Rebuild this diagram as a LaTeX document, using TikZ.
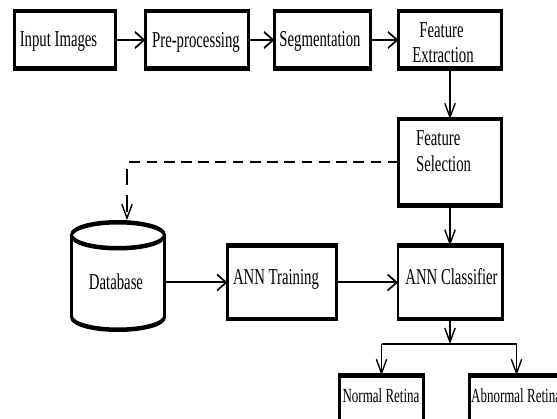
\documentclass[tikz,border=0pt]{standalone}
\usepackage{fontspec}
\newfontfamily\tnr{Liberation Serif}
\usetikzlibrary{arrows.meta}
\tikzset{
  box/.style={draw, line width=4.5pt, inner sep=0pt, outer sep=0pt, fill=white},
  conn/.style={line width=2pt},
  arr/.style={conn, -{Straight Barb[length=14pt,width=16pt]}},
  dashline/.style={dash pattern=on 16.5pt off 10pt},
  cyl/.style={line width=4.5pt},
  txt/.style={font=\tnr\fontsize{22.7}{26}\selectfont, inner sep=0pt, anchor=base},
  stxt/.style={font=\tnr\fontsize{20}{23}\selectfont, inner sep=0pt, anchor=base}
}
\begin{document}
\begin{tikzpicture}[x=1pt,y=1pt]
\useasboundingbox (0,0) rectangle (557,418);
\fill[white] (0,0) rectangle (557,418);
\clip (0,0) rectangle (557,418);
\begin{scope}[x=1.538462pt, y=1pt, transform canvas={xscale=0.65}]
  % boxes
  \node[box, minimum width=155.5pt, minimum height=57.5pt] (in)  at (65,378) {};
  \node[box, minimum width=158.6pt, minimum height=57.5pt] (pre) at (197,378) {};
  \node[box, minimum width=147.8pt, minimum height=57.5pt] (seg) at (322.5,378) {};
  \node[box, minimum width=158.6pt, minimum height=57.5pt] (fe)  at (450,378) {};
  \node[box, minimum width=158.6pt, minimum height=86.5pt] (fs)  at (450,255.5) {};
  \node[box, minimum width=167.8pt, minimum height=73.5pt] (tr)  at (282,135.5) {};
  \node[box, minimum width=160.1pt, minimum height=73.5pt] (cls) at (450,135.5) {};
  \node[box, minimum width=129.3pt, minimum height=55.5pt] (nr)  at (381.5,15) {};
  \node[box, minimum width=144.7pt, minimum height=55.5pt] (anr) at (516.5,15) {};
  % cylinder
  \node[inner sep=0pt, outer sep=0pt, minimum width=147.7pt, minimum height=100pt] (db) at (118,135.5) {};
  \draw[cyl] (118,182.75) ellipse [x radius=46.5, y radius=13];
  \draw[cyl] (71.5,182.75) -- (71.5,101.25) arc[start angle=180, end angle=360, x radius=46.5, y radius=13] -- (164.5,182.75);
  \coordinate (dbtop) at (127,197.8);
  % texts
  \node[txt] (t1) at (58.5,371) {Input Images};
  \node[txt] (t2) at (196,370) {Pre-processing};
  \node[txt] (t3) at (320,371) {Segmentation};
  \node[txt] (t4a) at (441.5,380) {Feature};
  \node[txt] (t4b) at (443,355) {Extraction};
  \node[txt, anchor=base west] (t5a) at (416,272) {Feature};
  \node[txt, anchor=base west] (t5b) at (416,246.3) {Selection};
  \node[txt] (t6) at (276,133) {ANN Training};
  \node[txt] (t7) at (451.5,133) {ANN Classifier};
  \node[txt] (t8) at (116,128) {Database};
  \node[stxt] (t9) at (381,16) {Normal Retina};
  \node[stxt, anchor=base west] (t10) at (471,16) {Abnormal Retina};
  % connectors
  \draw[arr] (in.east) -- (pre.west);
  \draw[arr] (pre.east) -- (seg.west);
  \draw[arr] (seg.east) -- (fe.west);
  \draw[arr] (fe.south) -- (fs.north);
  \draw[arr] (fs.south) -- (cls.north);
  \draw[arr, dashline] (fs.west) -| (dbtop);
  \draw[arr] (db.east) -- (tr.west);
  \draw[arr] (tr.east) -- (cls.west);
  \coordinate (jn) at (450,74);
  \draw[arr] (cls.south) -- (jn);
  \draw[conn] (nr.north |- jn) -- (anr.north |- jn);
  \draw[arr] (nr.north |- jn) -- (nr.north);
  \draw[arr] (anr.north |- jn) -- (anr.north);
\end{scope}
\end{tikzpicture}
\end{document}
